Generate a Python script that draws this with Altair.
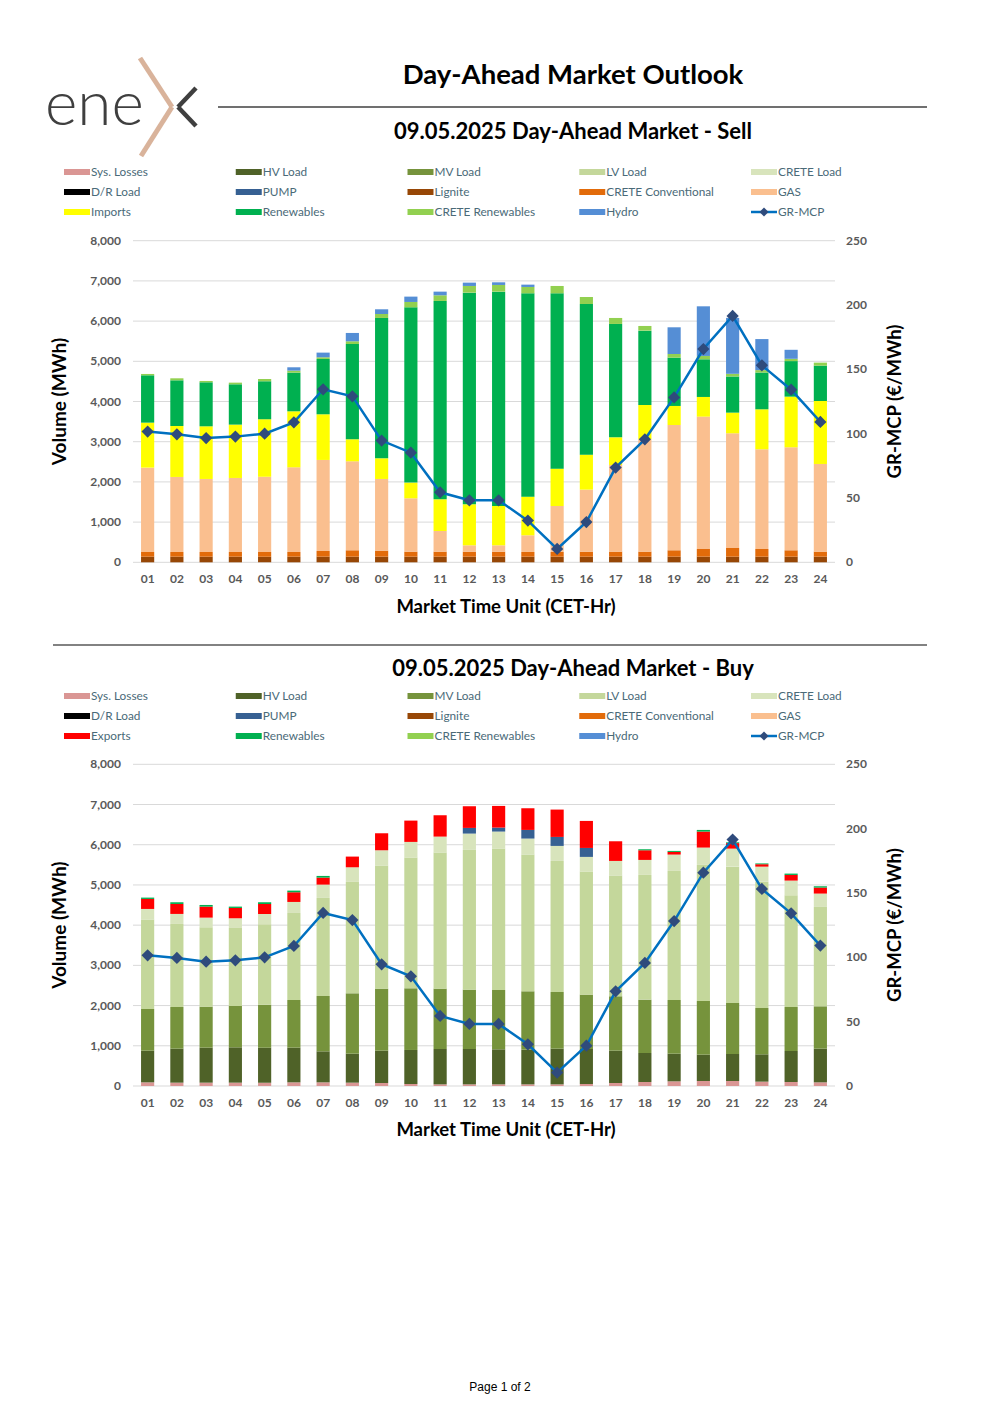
import altair as alt
import pandas as pd

# ---------------- data ----------------
HOURS = ["01", "02", "03", "04", "05", "06", "07", "08", "09", "10", "11", "12",
         "13", "14", "15", "16", "17", "18", "19", "20", "21", "22", "23", "24"]

# Sell side (MWh)
SELL_LIGNITE = [140, 140, 140, 140, 140, 140, 140, 140, 140, 140, 140, 140,
                140, 140, 140, 140, 140, 140, 140, 140, 140, 140, 140, 140]
SELL_CRETE_CONV = [117, 117, 117, 117, 117, 117, 142, 159, 150, 125, 125, 125,
                   125, 117, 117, 125, 125, 125, 159, 192, 217, 192, 159, 125]
SELL_GAS = [2098, 1866, 1816, 1841, 1874, 2106, 2264, 2213, 1783, 1327, 514, 158,
            158, 415, 1144, 1543, 2156, 2795, 3117, 3292, 2852, 2479, 2562, 2181]
SELL_IMPORTS = [1119, 1268, 1310, 1327, 1426, 1393, 1136, 548, 514, 390, 788, 1020,
                978, 961, 929, 870, 688, 854, 473, 489, 514, 995, 1260, 1567]
SELL_RENEWABLES = [1178, 1136, 1095, 1003, 945, 962, 1376, 2371, 3491, 4361, 4934, 5265,
                   5332, 5059, 4362, 3748, 2820, 1849, 1202, 937, 899, 915, 884, 879]
SELL_CRETE_REN = [33, 50, 33, 41, 59, 50, 42, 67, 99, 133, 141, 166,
                  166, 157, 182, 174, 149, 116, 91, 83, 67, 60, 57, 75]
SELL_HYDRO = [0, 0, 0, 0, 0, 83, 116, 207, 117, 133, 91, 83,
              66, 58, 0, 0, 0, 0, 664, 1235, 1391, 772, 224, 0]

# Buy side (MWh)
BUY_SYS_LOSSES = [91, 83, 83, 83, 83, 91, 91, 83, 75, 50, 41, 41,
                  41, 41, 41, 50, 75, 100, 116, 124, 124, 108, 100, 91]
BUY_HV = [788, 846, 871, 879, 871, 863, 771, 721, 804, 846, 879, 879,
          871, 863, 888, 870, 804, 721, 688, 655, 672, 680, 771, 838]
BUY_MV = [1036, 1036, 1019, 1028, 1069, 1185, 1377, 1501, 1542, 1534, 1501, 1476,
          1476, 1451, 1409, 1352, 1352, 1327, 1335, 1335, 1269, 1152, 1094, 1053]
BUY_LV = [2223, 2065, 1974, 1940, 1999, 2164, 2438, 2770, 3060, 3250, 3383, 3475,
          3516, 3400, 3259, 3060, 3001, 3101, 3209, 3384, 3390, 3140, 2778, 2471]
BUY_CRETE_LOAD = [265, 249, 240, 241, 257, 274, 331, 364, 381, 390, 398, 406,
                  423, 398, 373, 365, 365, 373, 407, 431, 448, 375, 365, 332]
BUY_PUMP = [0, 0, 0, 0, 0, 0, 0, 0, 0, 0, 0, 141,
            99, 215, 224, 223, 0, 0, 0, 0, 0, 0, 0, 0]
BUY_EXPORTS = [249, 248, 274, 257, 248, 241, 174, 266, 423, 530, 531, 539,
               539, 539, 680, 672, 489, 240, 66, 398, 137, 60, 141, 149]
BUY_RENEWABLES = [33, 42, 41, 33, 42, 41, 42, 0, 0, 0, 0, 0,
                  0, 0, 0, 0, 0, 25, 25, 41, 20, 20, 33, 33]

# GR-MCP (EUR/MWh)
MCP = [101.6, 99.5, 96.6, 97.7, 100.0, 108.8, 134.5, 129.0, 94.6, 85.2, 54.4, 48.2,
       48.2, 32.4, 10.4, 31.3, 73.6, 95.6, 128.2, 165.8, 191.5, 153.1, 134.2, 109.1]

VOL_TICKS = [0, 1000, 2000, 3000, 4000, 5000, 6000, 7000, 8000]
MCP_TICKS = [0, 50, 100, 150, 200, 250]

SERIES_NAMES = ["Sys. Losses", "HV Load", "MV Load", "LV Load", "CRETE Load",
                "D/R Load", "PUMP", "Lignite", "CRETE Conventional", "GAS",
                "Imports", "Exports", "Renewables", "CRETE Renewables", "Hydro"]
SERIES_COLORS = ["#DA9694", "#4F6228", "#76933C", "#C4D79B", "#D8E4BC",
                 "#000000", "#366092", "#974706", "#E26B0A", "#FABF8F",
                 "#FFFF00", "#FF0000", "#00B050", "#92D050", "#558ED5"]

LEGEND_SELL = [["Sys. Losses", "HV Load", "MV Load", "LV Load", "CRETE Load"],
               ["D/R Load", "PUMP", "Lignite", "CRETE Conventional", "GAS"],
               ["Imports", "Renewables", "CRETE Renewables", "Hydro", "GR-MCP"]]
LEGEND_BUY = [["Sys. Losses", "HV Load", "MV Load", "LV Load", "CRETE Load"],
              ["D/R Load", "PUMP", "Lignite", "CRETE Conventional", "GAS"],
              ["Exports", "Renewables", "CRETE Renewables", "Hydro", "GR-MCP"]]

SELL_STACK = [("Lignite", SELL_LIGNITE), ("CRETE Conventional", SELL_CRETE_CONV),
              ("GAS", SELL_GAS), ("Imports", SELL_IMPORTS),
              ("Renewables", SELL_RENEWABLES), ("CRETE Renewables", SELL_CRETE_REN),
              ("Hydro", SELL_HYDRO)]
BUY_STACK = [("Sys. Losses", BUY_SYS_LOSSES), ("HV Load", BUY_HV), ("MV Load", BUY_MV),
             ("LV Load", BUY_LV), ("CRETE Load", BUY_CRETE_LOAD), ("PUMP", BUY_PUMP),
             ("Exports", BUY_EXPORTS), ("Renewables", BUY_RENEWABLES)]

# ---------------- styling ----------------
OFF = 8  # page margin: page coords -> plot coords
FONT = "Lato"
AXIS_GREY = "#595959"
LEGEND_TXT = "#4A6A78"
LINE_BLUE = "#0070C0"
MARKER_BLUE = "#2F4B7C"
GRID = "#D9D9D9"

X_SCALE = alt.Scale(domain=HOURS, range=[133 - OFF, 835 - OFF], paddingInner=0, paddingOuter=0)
COLOR_SCALE = alt.Scale(domain=SERIES_NAMES, range=SERIES_COLORS)

one = pd.DataFrame({"k": [0]})


def label(text, x, y, size, weight="normal", color="#000000", font=FONT,
          align="center", angle=0):
    kw = dict(text=text, fontSize=size, fontWeight=weight, color=color, font=font,
              align=align, baseline="middle")
    if angle:
        kw["angle"] = angle
    return alt.Chart(one).mark_text(**kw).encode(x=alt.value(x - OFF), y=alt.value(y - OFF))


def seg(x1, y1, x2, y2, color, width, cap="butt"):
    return alt.Chart(one).mark_rule(color=color, strokeWidth=width, strokeCap=cap).encode(
        x=alt.value(x1 - OFF), y=alt.value(y1 - OFF),
        x2=alt.value(x2 - OFF), y2=alt.value(y2 - OFF))


def long_df(stack):
    rows = []
    for order, (name, vals) in enumerate(stack):
        for h, v in zip(HOURS, vals):
            rows.append({"hour": h, "name": name, "value": v, "ord": order})
    return pd.DataFrame(rows)


def section(stack, legend_rows, title, title_y, legend_y0, plot_top, plot_bottom,
            xlab_y, xtitle_y):
    layers = []
    vol_scale = alt.Scale(domain=[0, 8000], range=[plot_bottom - OFF, plot_top - OFF], nice=False)
    mcp_scale = alt.Scale(domain=[0, 250], range=[plot_bottom - OFF, plot_top - OFF], nice=False)

    layers.append(label(title, 573, title_y, 22, "bold"))

    # legend
    leg_rows = []
    for r, row in enumerate(legend_rows):
        for c, name in enumerate(row):
            leg_rows.append({"name": name, "col": c, "row": r})
    leg = pd.DataFrame(leg_rows)
    lx = alt.Scale(domain=[0, 4], range=[64 - OFF, 751 - OFF])
    ly = alt.Scale(domain=[0, 2], range=[legend_y0 - OFF, legend_y0 + 40 - OFF])
    base = alt.Chart(leg)
    layers.append(base.transform_filter(alt.datum.name != "GR-MCP").mark_tick(
        orient="horizontal", size=26, thickness=6, xOffset=13, opacity=1).encode(
        x=alt.X("col:Q", scale=lx, axis=None),
        y=alt.Y("row:Q", scale=ly, axis=None),
        color=alt.Color("name:N", scale=COLOR_SCALE, legend=None)))
    layers.append(base.transform_filter(alt.datum.name == "GR-MCP").mark_tick(
        orient="horizontal", size=26, thickness=2.5, xOffset=13, color=LINE_BLUE, opacity=1).encode(
        x=alt.X("col:Q", scale=lx, axis=None),
        y=alt.Y("row:Q", scale=ly, axis=None)))
    layers.append(base.transform_filter(alt.datum.name == "GR-MCP").mark_point(
        shape="diamond", filled=True, size=80, xOffset=13, color=MARKER_BLUE, opacity=1).encode(
        x=alt.X("col:Q", scale=lx, axis=None),
        y=alt.Y("row:Q", scale=ly, axis=None)))
    layers.append(base.mark_text(align="left", baseline="middle", dx=27, fontSize=11.8,
                                 font=FONT, color=LEGEND_TXT).encode(
        x=alt.X("col:Q", scale=lx, axis=None),
        y=alt.Y("row:Q", scale=ly, axis=None),
        text="name:N"))

    # gridlines
    grid = pd.DataFrame({"v": VOL_TICKS})
    layers.append(alt.Chart(grid).mark_rule(color=GRID, strokeWidth=1).encode(
        y=alt.Y("v:Q", scale=vol_scale, axis=None),
        x=alt.value(133 - OFF), x2=alt.value(835 - OFF)))
    layers.append(alt.Chart(grid).mark_text(align="right", baseline="middle", fontSize=12,
                                            fontWeight="bold", font=FONT, color=AXIS_GREY).encode(
        y=alt.Y("v:Q", scale=vol_scale, axis=None),
        x=alt.value(121 - OFF),
        text=alt.Text("v:Q", format=",")))
    mt = pd.DataFrame({"m": MCP_TICKS})
    layers.append(alt.Chart(mt).mark_text(align="left", baseline="middle", fontSize=12,
                                          fontWeight="bold", font=FONT, color=AXIS_GREY).encode(
        y=alt.Y("m:Q", scale=mcp_scale, axis=None),
        x=alt.value(846 - OFF),
        text=alt.Text("m:Q")))

    # bars
    df = long_df(stack)
    layers.append(alt.Chart(df).mark_bar(width=alt.RelativeBandSize(0.45)).encode(
        x=alt.X("hour:N", scale=X_SCALE, axis=None),
        y=alt.Y("value:Q", stack="zero", scale=vol_scale, axis=None),
        color=alt.Color("name:N", scale=COLOR_SCALE, legend=None),
        order=alt.Order("ord:Q")))

    # MCP line
    mdf = pd.DataFrame({"hour": HOURS, "mcp": MCP})
    layers.append(alt.Chart(mdf).mark_line(color=LINE_BLUE, strokeWidth=2.5).encode(
        x=alt.X("hour:N", scale=X_SCALE, axis=None),
        y=alt.Y("mcp:Q", scale=mcp_scale, axis=None)))
    layers.append(alt.Chart(mdf).mark_point(shape="diamond", filled=True, size=150,
                                            color=MARKER_BLUE, opacity=1).encode(
        x=alt.X("hour:N", scale=X_SCALE, axis=None),
        y=alt.Y("mcp:Q", scale=mcp_scale, axis=None)))

    # x labels
    hdf = pd.DataFrame({"hour": HOURS})
    layers.append(alt.Chart(hdf).mark_text(baseline="middle", fontSize=12, fontWeight="bold",
                                           font=FONT, color=AXIS_GREY).encode(
        x=alt.X("hour:N", scale=X_SCALE, axis=None),
        y=alt.value(xlab_y - OFF),
        text="hour:N"))

    mid = (plot_top + plot_bottom) / 2
    layers.append(label("Market Time Unit (CET-Hr)", 506, xtitle_y, 18.5, "bold"))
    layers.append(label("Volume (MWh)", 60, mid, 19, "bold", angle=270))
    layers.append(label("GR-MCP (€/MWh)", 895, mid, 18.5, "bold", angle=270))
    return layers


layers = []
# logo
layers.append(label("ene", 45, 106, 62, 300, "#3F3F3F", align="left"))
layers.append(seg(140, 58, 172, 107, "#D9B39B", 5))
layers.append(seg(172, 107, 141, 156, "#D9B39B", 5))
layers.append(seg(196, 88, 178, 107, "#3F3F3F", 4.5))
layers.append(seg(178, 107, 196, 126, "#3F3F3F", 4.5))

layers.append(label("Day-Ahead Market Outlook", 573, 76, 27.5, "bold"))
layers.append(seg(218, 107, 927, 107, "#404040", 1.5))

layers += section(SELL_STACK, LEGEND_SELL, "09.05.2025  Day-Ahead Market - Sell",
                  132, 172, 240.7, 562.3, 579, 607)
layers.append(seg(53, 645, 927, 645, "#595959", 1.5))
layers += section(BUY_STACK, LEGEND_BUY, "09.05.2025  Day-Ahead Market - Buy",
                  669, 696, 764.3, 1086, 1103, 1130)

layers.append(label("Page 1 of 2", 500, 1387, 12, "normal", "#000000", font="Liberation Sans"))

chart = alt.layer(*layers).resolve_scale(
    x="independent", y="independent"
).properties(
    width=984, height=1399, padding=0,
    autosize=alt.AutoSizeParams(type="none"),
    background="white",
).configure_view(stroke=None)

chart.save("out.html", embed_options={"renderer": "svg", "actions": False})
